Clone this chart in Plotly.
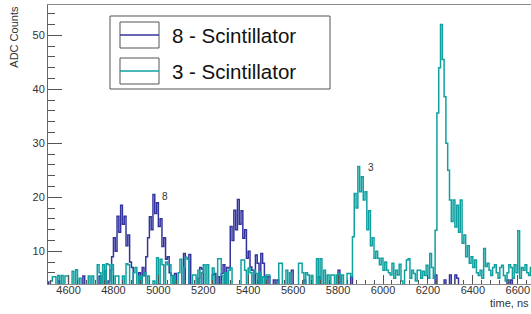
import plotly.graph_objects as go

# ---------------- data (8 ns bins starting at 4504 ns) ----------------
BIN_START = 4504
BIN_WIDTH = 8

scint8 = [
    4.3, 3, 1, 2, 0, 1, 4.5, 2, 1, 0,
    1, 2, 0, 1, 3, 2, 1, 0, 2, 1,
    5.4, 2, 1, 3, 0, 2, 1, 3, 2, 5.4,
    3, 2, 6.3, 2, 4.5, 6.5, 9, 12.5, 10, 16.5,
    13.5, 18.5, 15, 16.5, 11, 13, 8, 7, 3, 2,
    2, 6, 3, 7, 5.5, 9, 12.5, 16.4, 14, 20.5,
    17, 19, 14.6, 16, 10.9, 12.5, 8.5, 9, 6, 5.5,
    3, 5.9, 2, 1, 3, 2, 9.6, 2, 3, 9.4,
    2, 1, 3, 2, 5, 7, 6.7, 2, 1, 3,
    2, 1, 5.6, 5.9, 2, 5.3, 3, 5.9, 7.5, 2,
    7, 6.9, 14.6, 12, 17.6, 14, 19.6, 15, 17.5, 12.4,
    14, 8.7, 10, 7.1, 6.5, 3, 9.3, 7.8, 4, 9.6,
    7.8, 5.3, 2, 5.3, 1, 2, 4.7, 3, 4.7, 1,
    2, 0, 1, 3, 2, 1, 6.5, 2, 1, 0,
    1, 3, 2, 4.7, 1, 0, 2, 1, 3, 1,
    2, 5.3, 1, 0, 2, 1, 3, 1, 0, 2,
    1, 2, 6.5, 1, 3, 0, 2, 1, 3, 5.3,
    2, 1, 0, 3, 1, 2, 0, 1, 2, 3,
    1, 0, 2, 1, 3, 2, 1, 0, 2, 1,
    0, 3, 1, 2, 1, 0, 2, 3, 1, 2,
    1, 2, 0, 1, 3, 2, 1, 0, 2, 1,
    3, 1, 2, 0, 1, 2, 5.6, 1, 3, 2,
    1, 4.7, 2, 1, 5.6, 2, 1, 5.6, 5, 2,
    1, 3, 2, 0, 1, 2, 3, 1, 0, 2,
    1, 2, 0, 3, 1, 2, 1, 0, 2, 3,
    1, 0, 2, 1, 3, 2, 4.7, 1, 4.7, 2,
    0, 1, 3, 2, 1, 0, 2, 1, 3, 2,
]

scint3 = [
    1, 2, 4.5, 5.3, 5.3, 2, 5.5, 3, 5.5, 1,
    5.4, 5.4, 2, 1, 6.3, 2, 6.6, 3, 5, 2,
    1, 3, 2, 5.4, 2, 5.4, 3, 1, 7.5, 6,
    2, 7.5, 3, 7.7, 7.5, 2, 7.5, 3, 5.4, 5.4,
    2, 1, 5.4, 2, 7.7, 7.5, 3, 2, 6, 7,
    3, 5.4, 2, 5.4, 6, 2, 5.4, 3, 1, 4.5,
    3, 8.8, 4, 8.5, 7.5, 3, 8, 7.5, 7.5, 2,
    5.4, 2, 3, 6, 8.5, 3, 7, 8.9, 8.5, 3,
    2, 5.6, 5.6, 3, 6.5, 2, 6, 7.5, 3, 7.5,
    3, 2, 6.9, 2, 3, 8.6, 8.6, 5.5, 3, 6,
    2, 6.5, 6.9, 3, 2, 1, 3, 2, 8.4, 8.4,
    6.5, 3, 6.9, 6, 2, 6.5, 5.9, 3, 6.2, 2,
    5.3, 2, 5.6, 5.6, 3, 2, 1, 3, 2, 7.8,
    7.8, 3, 2, 6.5, 3, 6, 2, 1, 3, 2,
    7.8, 7.8, 6, 3, 6, 5.6, 3, 5.5, 2, 1,
    8.6, 3, 8.6, 2, 6.5, 3, 5.6, 2, 5.6, 5.6,
    3, 5.6, 5.9, 2, 5.6, 3, 2, 5.9, 5.9, 5.3,
    12.7, 20.7, 18, 25.7, 21, 23.8, 19.5, 21, 14, 17.5,
    11, 12.5, 8.7, 10, 8.7, 7.5, 8.7, 6.5, 8, 6.5,
    6, 5.6, 7.8, 5, 6.5, 5.6, 7.6, 4.5, 3, 6.5,
    8.4, 8.6, 5, 6.5, 5.9, 4.5, 6.5, 6.5, 5, 6.3,
    5.5, 7.4, 5, 9.6, 7, 5, 13.9, 35.6, 44, 52,
    45.5, 38.6, 30, 25, 19.5, 15.5, 19.5, 14.5, 18.5, 13.5,
    19.5, 11.5, 13, 9, 11, 7.8, 9, 7, 8.4, 6,
    5.5, 6.5, 5, 10.5, 7.2, 7.8, 6.5, 5.5, 7, 7.5,
    6, 5, 7, 7.4, 5.5, 4.5, 6, 7.5, 7, 5,
    7.5, 6, 13.8, 5, 7, 6.5, 7.5, 6, 5.5, 7,
]

series_names = ["8 - Scintillator", "3 - Scintillator"]
peak_labels = ["8", "3"]
peak_label_pos = [(5030, 20.2), (5945, 25.5)]   # (time, ADC) where peak labels sit
X_TITLE = "time, ns"
Y_TITLE = "ADC Counts"

# ---------------- styling ----------------
W, H = 531, 314
L, R, T, B = 48, 0, 5, 30
BLUE = "#34349e"
TEAL = "#10a0a0"
FONT = "Liberation Sans, Arial, Helvetica, sans-serif"
TXT = "#333333"
AXC = "#8a8a8a"

X_RANGE = [4508.7, 6658.8]
Y_RANGE = [3.94, 55.6]

def px(x):
    return (x - L) / (W - L - R)

def py(y):
    return (H - B - y) / (H - B - T)

n = len(scint8)
edges = [BIN_START + BIN_WIDTH * i for i in range(n + 1)]

fig = go.Figure()
for vals, col, name in [(scint8, BLUE, series_names[0]), (scint3, TEAL, series_names[1])]:
    fig.add_trace(go.Scatter(
        x=edges, y=list(vals) + [vals[-1]], mode="lines", name=name,
        line=dict(shape="hv", color=col, width=1.5), showlegend=False,
        hoverinfo="skip"))

fig.update_layout(
    width=W, height=H, margin=dict(l=L, r=R, t=T, b=B),
    paper_bgcolor="white", plot_bgcolor="white",
    font=dict(family=FONT, size=11, color=TXT),
    showlegend=False,
)
fig.update_xaxes(
    range=X_RANGE, dtick=200, tick0=4600, showgrid=False, zeroline=False,
    showline=True, linecolor=AXC, linewidth=1, mirror=True,
    ticks="inside", ticklen=9, tickcolor="#555", tickwidth=1,
    minor=dict(dtick=40, ticks="inside", ticklen=4.5, tickcolor="#555"),
    tickfont=dict(size=11, color=TXT, family=FONT), ticklabelstandoff=-4,
)
fig.update_yaxes(
    range=Y_RANGE, dtick=10, tick0=0, showgrid=False, zeroline=False,
    showline=True, linecolor="#666", linewidth=1, mirror=False,
    ticks="inside", ticklen=14, tickcolor="#555", tickwidth=1,
    minor=dict(dtick=2, ticks="inside", ticklen=7, tickcolor="#555"),
    tickfont=dict(size=11, color=TXT, family=FONT),
)

ann = []
ann.append(dict(text=X_TITLE, xref="paper", yref="paper", x=1.0, y=py(302.5),
                xanchor="right", yanchor="middle", showarrow=False,
                font=dict(size=11, color=TXT, family=FONT)))
ann.append(dict(text=Y_TITLE, xref="paper", yref="paper", x=px(14), y=py(36.7),
                xanchor="center", yanchor="middle", textangle=-90, showarrow=False,
                font=dict(size=11, color=TXT, family=FONT)))
for lab, (xx, yy) in zip(peak_labels, peak_label_pos):
    ann.append(dict(text=lab, x=xx, y=yy, xref="x", yref="y", showarrow=False,
                    font=dict(size=10, color=TXT, family=FONT)))

# legend (drawn manually, ROOT style)
shapes = []
shapes.append(dict(type="rect", xref="paper", yref="paper",
                   x0=px(110), x1=px(330), y0=py(89), y1=py(16),
                   line=dict(color="#555", width=1), fillcolor="white", layer="above"))
for i, (col, name) in enumerate([(BLUE, series_names[0]), (TEAL, series_names[1])]):
    top = 22 + 36 * i
    bot = top + 26
    mid = (top + bot) / 2
    shapes.append(dict(type="rect", xref="paper", yref="paper",
                       x0=px(120), x1=px(159), y0=py(bot), y1=py(top),
                       line=dict(color="#555", width=1), fillcolor="white", layer="above"))
    shapes.append(dict(type="line", xref="paper", yref="paper",
                       x0=px(120), x1=px(159), y0=py(mid), y1=py(mid),
                       line=dict(color=col, width=1.5), layer="above"))
    ann.append(dict(text=name, xref="paper", yref="paper", x=px(170), y=py(mid),
                    xanchor="left", yanchor="middle", showarrow=False,
                    font=dict(size=20.5, color="#111", family=FONT)))

fig.update_layout(shapes=shapes, annotations=ann)
fig.write_html(
    "out.html",
    config={"displayModeBar": False},
    post_script="document.body.style.margin='0';document.body.style.overflow='hidden';",
)
